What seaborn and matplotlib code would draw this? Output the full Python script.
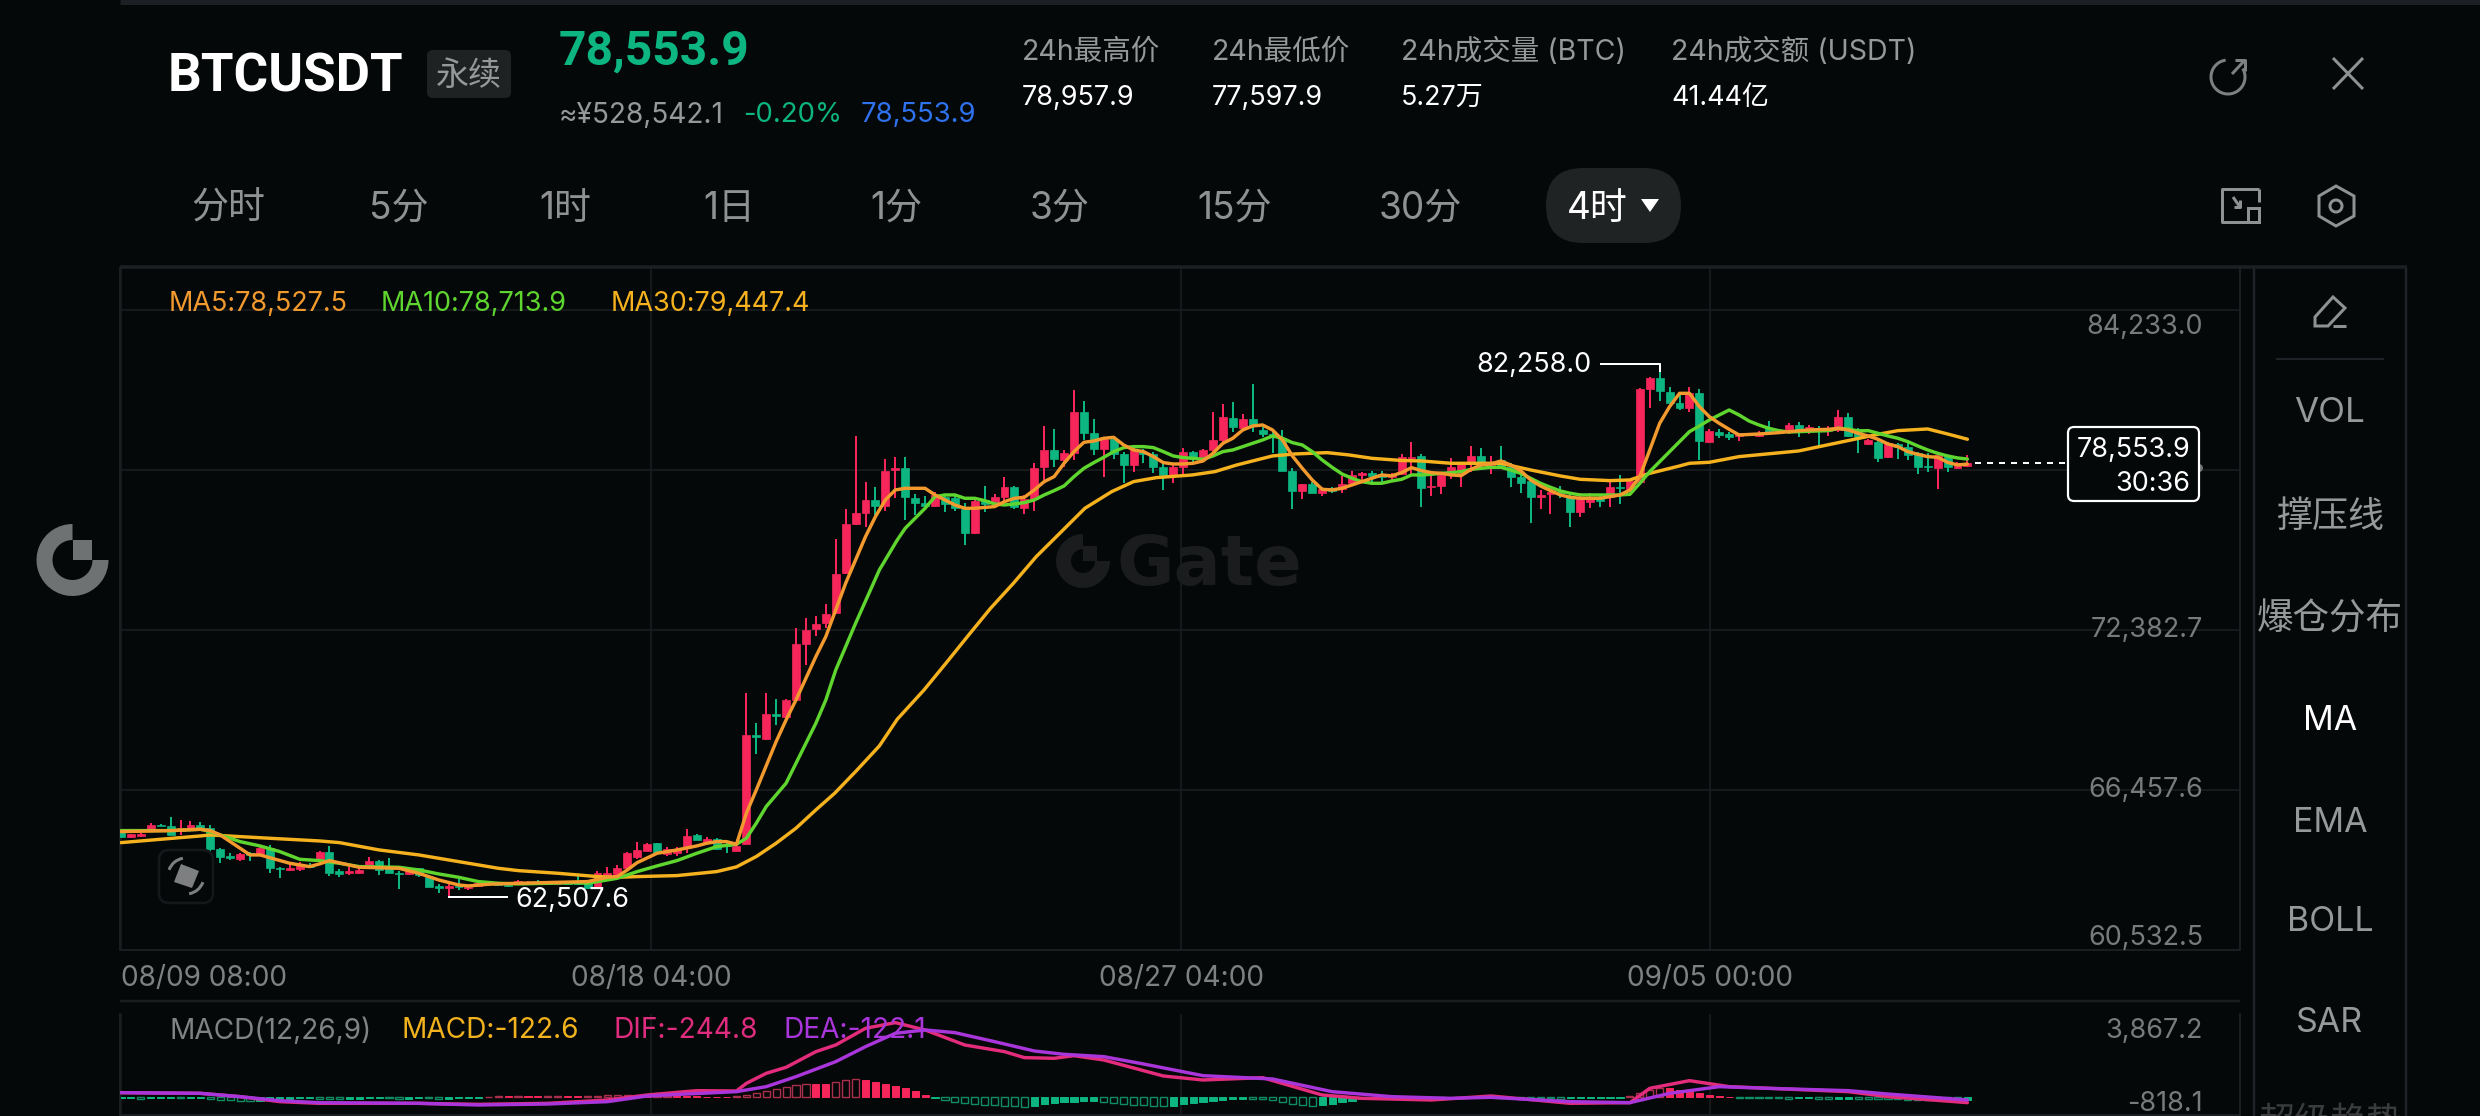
import matplotlib
matplotlib.use("Agg")
import matplotlib.pyplot as plt
from matplotlib.patches import FancyBboxPatch, Wedge, Rectangle, Polygon, Arc, Circle
import numpy as np
import seaborn as sns

# Candles, one per 4h
opens = [
    64920,64710,64760,64980,65160,65130,64950,65000,65160,65040,
    64260,64020,63910,64110,64090,64300,63560,63500,63520,63680,
    63870,64180,63470,63400,63400,63650,63810,63620,63400,63350,
    63560,63250,62900,62840,62920,62820,62920,62960,63000,62940,
    62980,63000,63050,63000,62980,63020,63000,63070,62820,63280,
    63350,63560,63970,64210,64490,64090,64140,64300,64790,64550,
    64660,64420,64210,64460,68490,68340,69280,69150,69800,71870,
    72410,72630,73000,74480,76300,76730,77200,76980,78310,78370,
    77260,77100,76980,77320,77260,76850,75990,77200,77100,77300,
    77690,76890,77220,78410,79050,78680,78950,80440,79670,79100,
    79440,78900,78490,78990,78900,78430,78120,78430,78990,78780,
    79030,79420,80250,79850,80200,79790,79640,79480,78280,77540,
    77790,77470,77630,77590,77820,78120,78210,78160,78060,78160,
    78740,78830,77670,77720,78120,78160,78530,78830,78430,78680,
    78430,78060,77910,77320,77420,77510,77350,76770,77140,77320,
    77300,77670,77570,77880,81300,81700,81210,80780,80590,81170,
    79360,79730,79640,79570,79640,79570,79850,79770,79810,79980,
    79770,79790,79770,79790,80280,79810,79270,79360,78780,79270,
    79170,78930,78460,78370,78830,78370,78460,
]
closes = [
    64730,64820,64830,65160,65130,64790,65040,65160,65040,64260,
    63970,63940,64090,64050,64320,63560,63520,63560,63720,63620,
    64180,63400,63330,63470,63500,63830,63500,63400,63350,63440,
    63310,62880,62840,62920,62860,62880,63000,63000,62940,62920,
    63090,63060,63000,62980,63020,62990,62970,62820,63370,63400,
    63560,64140,64240,64460,64140,64260,64260,64770,64610,64630,
    64260,64390,64390,68490,68410,69280,69180,69800,71870,72390,
    72610,72970,74460,76300,76730,77200,76980,78280,78370,77290,
    77100,76980,77380,77050,76890,75990,77170,77050,77300,77690,
    76950,77220,78380,79050,78700,78950,80440,79670,79070,79440,
    78900,78490,79030,78900,78410,78120,78430,78990,78700,79050,
    79420,80260,79890,80200,79980,79640,79610,78280,77540,77790,
    77470,77590,77540,77790,78120,78210,78090,78060,78120,78780,
    78800,77630,77720,78120,78430,78560,78830,78530,78560,78430,
    78060,77840,77300,77380,77510,77450,76770,77260,77260,77170,
    77670,77630,77910,81300,81700,81250,80800,80590,81150,79390,
    79770,79610,79540,79670,79590,79690,79730,79690,79980,79790,
    79910,79740,79850,80280,79570,79540,79420,78740,79300,79150,
    78870,78430,78410,78870,78430,78580,78553.9,
]
highs = [
    64980,64840,64850,65230,65180,65450,65350,65310,65260,65160,
    64300,64140,64140,64180,64360,64420,63620,63740,63800,63740,
    64190,64390,63520,63620,63650,63970,63870,63930,63440,63470,
    63580,63310,62980,63000,63150,62940,63030,63030,63050,62990,
    63120,63100,63120,63040,63060,63060,63280,63100,63440,63620,
    63680,64160,64550,64490,64510,64360,64360,65000,64830,64730,
    64680,64510,64420,70040,68930,70040,69840,69840,72450,72810,
    72900,73350,75740,76870,79570,77850,77670,78730,78800,78780,
    77410,77360,77510,77380,77350,77080,77200,77730,77420,78040,
    77700,77380,78560,79950,79820,79050,81270,80880,80200,79540,
    79540,78990,79110,79090,78990,78560,78560,79110,79000,79100,
    80470,80750,80810,80380,81490,79910,79730,79790,78370,77800,
    77880,77690,77690,78090,78280,78250,78280,78280,78190,78900,
    79360,78900,78120,78250,78770,78570,79200,79110,78830,79200,
    78560,78250,77960,77570,77720,77720,77450,77450,77450,77380,
    77880,78120,77960,81330,81760,82258,81370,81210,81370,81300,
    79810,79810,79730,79690,79680,79770,80140,79810,80060,80070,
    79980,79940,79940,80530,80410,79850,79450,79420,79360,79320,
    79360,78990,78930,78880,78870,78600,78870,
]
lows = [
    64670,64680,64720,64950,65110,64790,64790,64980,64950,64140,
    63770,63870,63840,63810,64060,63400,63190,63470,63470,63560,
    63840,63280,63250,63310,63340,63560,63310,63370,62780,63320,
    63250,62850,62660,62507.6,62760,62760,62890,62930,62900,62880,
    62950,62960,62960,62940,62950,62960,62950,62800,62790,63260,
    63320,63540,63890,64190,64120,64020,64030,64110,64590,64460,
    64240,64110,64190,64440,67800,68320,68860,69130,69780,71090,
    72160,72450,72980,74460,76260,76210,76610,76800,77260,76460,
    76640,76830,76950,76740,76800,75530,75940,76750,76980,77140,
    76850,76660,76800,77940,78410,78430,78680,79420,78870,78060,
    78700,77840,78250,78580,78190,77570,77840,78120,78560,78750,
    78900,79240,79730,79790,79730,79540,78950,78280,76850,77220,
    77440,77350,77450,77470,77790,77840,77750,77880,77940,78140,
    78120,76950,77350,77420,77960,77670,78250,78370,78160,78430,
    77690,77470,76360,76850,76680,77260,76210,76560,76890,76950,
    76930,77050,77540,77850,80590,80880,80780,80530,80470,78660,
    79320,79480,79420,79400,79550,79520,79640,79650,79640,79540,
    79640,79200,79570,79730,79520,78950,79240,78620,78760,78700,
    78680,78150,78250,77590,78250,78350,78430,
]

# Moving averages, read at these candle numbers
ma5_x = [0,5,8,9,10,12,13,14,17,19,20,21,24,28,30,32,34,35,37,40,47,49,50,51,52,54,56,58,59,60,61,62,
         63,64,66,67,68,70,71,72,73,74,75,76,77,78,79,81,82,83,84,85,86,88,89,90,91,92,93,94,95,96,97,98,99,100,
         101,102,103,104,105,106,107,108,109,110,111,112,113,114,115,116,117,118,119,120,121,122,123,124,125,126,127,128,
         129,130,131,132,133,134,135,136,137,138,139,140,141,142,143,144,145,146,147,149,150,151,152,153,154,155,156,157,158,159,
         160,161,162,163,165,167,168,170,172,173,174,175,176,177,178,179,180,181,182,183,184,185,186]
ma5 = [64917,64954,65003,64954,64793,64300,64053,64053,63744,63621,63720,63843,63596,63559,63374,63127,62942,62905,62967,63004,63066,63226,63251,63497,63769,64114,64238,64386,64485,64546,64546,64448,
       65599,66463,68252,69054,69795,71399,72139,73126,74114,74977,75841,76582,77199,77569,77630,77630,77384,77199,77013,76890,76890,76952,77137,77260,77297,77569,77877,78062,78556,78988,79333,79383,79482,79518,
       79235,79050,78988,78803,78581,78531,78531,78556,78642,78926,79296,79482,79790,79938,79975,79790,79420,78828,78371,77939,77593,77569,77630,77754,77877,78001,78124,78090,
       78210,78395,78284,78210,78185,78124,78099,78333,78494,78531,78642,78494,78284,77939,77716,77544,77383,77297,77260,77260,77322,77383,77568,78062,79049,80036,80653,81147,81147,80653,
       80283,80036,79814,79605,79642,79691,79728,79790,79814,79851,79790,79667,79568,79445,79272,79173,78988,78889,78803,78778,78593,78495,78527.5]

ma10_x = [0,5,8,9,10,12,14,16,18,20,22,24,28,30,32,34,36,38,40,46,47,49,50,52,54,56,58,60,62,
          63,64,65,66,67,68,70,71,72,74,76.4,78.2,79,81,82,83,84,85,86,87,88,89,90,91,92,93,94,95,96,97,98,99,100,
          101,102,103,104,105,106,107,108,109,110,111,112,113,114,115,116,117,118,119,120,121,122,123,124,125,126,127,128,
          129,130,131,132,133,134,135,136,137,138,139,140,141,142,143,144,145,146,147,151,152,153,154,155,156,157,158,159,
          160,161,162,163,164,165,166,167,168,170,172,173,174,175,176,177,178,179,180,181,182,183,184,185,186]
ma10 = [64954,64954,65003,64917,64793,64546,64386,64176,63892,63843,63744,63621,63596,63497,63349,63226,63066,63004,62979,63028,63004,63127,63189,63436,63646,63843,64114,64361,64448,
        64673,65229,65846,66278,66710,67450,68930,69790,70900,72630,74610,75718,76150,76890,77322,77384,77384,77260,77260,77174,77050,77013,77050,77100,77199,77384,77544,77717,78062,78371,78581,78778,78988,
        79136,79173,79173,79136,78988,78828,78766,78741,78704,78828,78988,79050,79173,79296,79420,79568,79482,79321,79235,78988,78679,78408,78161,78001,77877,77816,77816,77900,
        77963,78124,78124,78148,78185,78210,78247,78333,78370,78407,78407,78309,78185,78000,77815,77667,77531,77445,77383,77383,77408,77815,78247,78617,78987,79358,79728,79938,
        80160,80345,80530,80345,80123,79975,79851,79765,79716,79740,79765,79851,79827,79753,79766,79667,79568,79482,79358,79198,79050,78926,78828,78754,78713.9]

ma30_x = [0,4,8,9,12,15,20,22,26,30,34,38,40,44,48,50,52,56,60,62,64,66,68,70,
          71.9,74.1,76.4,78.2,80.9,83.1,85.4,87.6,89.9,92.2,94.4,97.1,99.8,102,104.3,107.9,110.2,112.4,116,118.3,121.5,123.7,126,
          129,131,134,137,139,142,145,147,150,152,154,157,158,160,163,169,173,177,179,182,184,186]
ma30 = [64509,64633,64756,64793,64731,64670,64571,64509,64238,64053,63806,63559,63473,63374,63251,63226,63251,63288,63436,63610,63995,64488,65044,65722,
        66340,67179,68092,69079,70165,71152,72201,73188,74114,75101,75903,76890,77507,77877,78025,78124,78248,78494,78828,78902,78951,78865,78741,
        78660,78642,78556,78556,78556,78309,78087,77963,77914,77939,78185,78457,78556,78593,78803,79013,79321,79630,79766,79827,79642,79447.4]

# MACD panel
dif_x = [0,8,12,16,20,30,36,43,49,53,58,62,63,65,67,70,72,75,78,81,85,89,91,94,96,99,105,109,115,121,125,132,138,146,152,154,158,162,174,178,186]
dif = [218,187,33,-199,-277,-277,-323,-277,-122,110,311,296,651,1116,1394,2121,2430,3204,3467,3127,2430,2121,1843,1812,1935,1734,992,806,914,110,-45,-122,64,-277,-246,419,775,497,265,33,-244.8]
dea_x = [0,8,12,16,20,30,36,43,49,53,57,62,65,68,72,75,78,81,84,88,92,95,99,103,109,116,122,128,134,138,146,152,156,161,166,174,178,186]
dea = [218,187,33,-153,-246,-277,-354,-308,-199,64,156,265,497,961,1657,2353,2972,3127,3003,2585,2152,1997,1889,1549,1007,853,265,33,-45,2,-199,-246,187,497,419,311,156,-122.1]
macd_hist = [
    -50,-50,-55,-50,-45,-45,-50,-50,-40,-70,
    -100,-130,-150,-160,-150,-120,-90,-70,-50,-45,
    -60,-70,-75,-70,-60,-50,-40,-50,-60,-55,
    -40,-50,-60,-55,-45,-30,-20,40,45,45,
    50,45,45,50,55,50,45,50,70,90,
    100,110,80,50,60,70,60,50,45,40,
    35,30,50,120,200,300,400,480,560,640,
    630,620,700,800,850,800,720,620,540,430,
    280,90,-10,-120,-220,-280,-320,-350,-370,-390,
    -410,-430,-380,-320,-280,-220,-200,-180,-150,-200,
    -250,-300,-340,-370,-400,-420,-380,-320,-270,-220,
    -180,-120,-80,-70,-75,-90,-120,-200,-290,-360,
    -420,-360,-300,-220,-150,-90,-50,-30,-20,-15,
    -10,-10,-15,-20,-10,-10,-5,-5,-5,-10,
    -10,-20,-30,-40,-50,-60,-50,-45,-40,-35,
    -30,-20,60,180,320,440,420,360,280,200,
    120,60,15,-20,-30,-40,-45,-50,-55,-50,
    -50,-60,-65,-60,-55,-60,-70,-75,-85,-95,
    -100,-105,-110,-115,-120,-125,-122.6,
]

date_pos = [0, 53.4, 106.8, 160.1]
date_labels = ["08/09 08:00", "08/18 04:00", "08/27 04:00", "09/05 00:00"]
price_grid = [84233.0, 78307.9, 72382.7, 66457.6, 60532.5]
price_labels = ["84,233.0", "72,382.7", "66,457.6", "60,532.5"]
tabs = ["分时", "5分", "1时", "1日", "1分", "3分", "15分", "30分"]
side_items = ["VOL", "撑压线", "爆仓分布", "MA", "EMA", "BOLL", "SAR", "超级趋势"]
stat_names = ["24h最高价", "24h最低价", "24h成交量 (BTC)", "24h成交额 (USDT)"]
stat_values = ["78,957.9", "77,597.9", "5.27万", "41.44亿"]

W, H = 2480, 1116
BG = "#050808"
GRID = "#1b1e20"
UP = "#F6265B"
DOWN = "#0DB680"
C_MA5, C_MA10, C_MA30 = "#F39A2E", "#5FD62F", "#F5B21E"
C_DIF, C_DEA = "#E42C7C", "#A936DA"
GREY = "#96989A"
PX = 0.72  # points per pixel at dpi 100

sns.set_theme(style="dark", rc={"axes.facecolor": "none", "figure.facecolor": BG})
plt.rcParams["font.family"] = ["Inter", "Noto Sans CJK SC", "DejaVu Sans"]


def box(l, t, r, b):
    return [l / W, 1 - b / H, (r - l) / W, (b - t) / H]


fig = plt.figure(figsize=(W / 100, H / 100), dpi=100, facecolor=BG)

# watermark layer sits under the chart
bg = fig.add_axes([0, 0, 1, 1], zorder=0)
bg.set_xlim(0, W)
bg.set_ylim(H, 0)
bg.axis("off")
WM = "#1a1c1e"
bg.add_patch(Wedge((1083, 561), 27, 0, 270, width=15, color=WM, lw=0))
bg.add_patch(Rectangle((1083, 546), 14, 15, color=WM, lw=0))
bg.text(1116, 566, "Gate", fontsize=70 * PX, color=WM, fontweight="bold", va="center", ha="left", family="DejaVu Sans")

# price panel
ax = fig.add_axes(box(120, 268, 2240, 950), zorder=1)
xs = np.arange(len(opens))
opens_a, closes_a = np.array(opens), np.array(closes)
colors = [UP if c >= o else DOWN for o, c in zip(opens, closes)]
ax.vlines(xs, lows, highs, colors=colors, lw=2 * PX, zorder=2)
ax.bar(xs, np.abs(closes_a - opens_a), bottom=np.minimum(opens_a, closes_a), width=0.8, color=colors,
       edgecolor=colors, linewidth=0.5, zorder=3)
sns.lineplot(x=ma30_x, y=ma30, ax=ax, color=C_MA30, lw=3.4 * PX, zorder=4, errorbar=None)
sns.lineplot(x=ma10_x, y=ma10, ax=ax, color=C_MA10, lw=3.4 * PX, zorder=5, errorbar=None)
sns.lineplot(x=ma5_x, y=ma5, ax=ax, color=C_MA5, lw=3.4 * PX, zorder=6, errorbar=None)
ax.set_xlim(-0.1, 213.46)
ax.set_ylim(60532.5, 85788)
ax.set_yticks(price_grid)
ax.set_xticks(date_pos)
ax.set_xticklabels(date_labels, fontsize=28 * PX, color="#7E8082")
ax.get_xticklabels()[0].set_ha("left")
ax.tick_params(axis="x", length=0, pad=11)
ax.tick_params(axis="y", length=0, labelleft=False)
ax.grid(True, color=GRID, lw=1.6 * PX, zorder=0)
ax.set_xlabel("")
ax.set_ylabel("")
for name, sp in ax.spines.items():
    sp.set_visible(name in ("left", "bottom", "right"))
    sp.set_color(GRID)
    sp.set_linewidth(2 * PX)

# MACD panel
ax2 = fig.add_axes(box(120, 1014, 2240, 1115), zorder=1)
for i, h in enumerate(macd_hist):
    col = UP if h >= 0 else DOWN
    dim = "#A8304C" if h >= 0 else "#0E8C63"
    growing = i > 0 and abs(h) > abs(macd_hist[i - 1])
    if growing:
        ax2.bar(i, h, width=0.72, facecolor=BG, edgecolor=dim, linewidth=1.4 * PX, zorder=2)
    else:
        ax2.bar(i, h, width=0.72, color=col, edgecolor=col, linewidth=0.7, zorder=2)
sns.lineplot(x=dif_x, y=dif, ax=ax2, color=C_DIF, lw=3.4 * PX, zorder=3, errorbar=None)
sns.lineplot(x=dea_x, y=dea, ax=ax2, color=C_DEA, lw=3.4 * PX, zorder=4, errorbar=None)
ax2.set_xlim(-0.1, 213.46)
ax2.set_ylim(-818.1, 3867.2)
ax2.set_xticks(date_pos)
ax2.set_yticks([])
ax2.tick_params(axis="x", length=0, labelbottom=False)
ax2.grid(True, axis="x", color=GRID, lw=1.6 * PX, zorder=0)
ax2.set_xlabel("")
ax2.set_ylabel("")
for name, sp in ax2.spines.items():
    sp.set_visible(name in ("left", "bottom", "right"))
    sp.set_color(GRID)
    sp.set_linewidth(2 * PX)

# everything around the charts, in picture pixels
ui = fig.add_axes([0, 0, 1, 1], zorder=2, facecolor="none")
ui.set_xlim(0, W)
ui.set_ylim(H, 0)
ui.axis("off")


def label(x, y, s, px, color=GREY, ha="left", weight="normal", **kw):
    ui.text(x, y + 5, s, fontsize=px * PX, color=color, ha=ha, va="center", fontweight=weight, clip_on=False, **kw)


def stroke(xs_, ys_, color=GREY, lw=3, **kw):
    ui.plot(xs_, ys_, color=color, lw=lw * PX, solid_capstyle="butt", **kw)


# frame lines
stroke([120, W], [2, 2], color="#1c1f23", lw=5)
stroke([120, 2407], [267, 267], color="#1c1f23", lw=3.5)
stroke([120, 2240], [1001, 1001], color=GRID, lw=2.5)
stroke([2254, 2254], [268, H], color="#1f2226", lw=2.5)
stroke([2406, 2406], [268, H], color="#1f2226", lw=2.5)
stroke([2276, 2384], [359, 359], color="#1f2226", lw=2)

# header
label(168, 72, "BTCUSDT", 53, color="white", weight="bold", family="Roboto")
ui.add_patch(FancyBboxPatch((427, 50), 84, 48, boxstyle="round,pad=0,rounding_size=6", fc="#1f2223", ec="none", lw=0))
label(469, 72, "永续", 33, ha="center")
label(559, 47, "78,553.9", 48, color=DOWN, weight="bold", family="Roboto")
label(559, 110, "≈¥528,542.1", 28)
label(743, 110, "-0.20%", 27.5, color=DOWN)
label(861, 110, "78,553.9", 27.5, color="#2F72EE")
for x, name, val in zip([1022, 1212, 1401, 1671], stat_names, stat_values):
    label(x, 47, name, 28.5)
    label(x, 93, val, 27, color="white")

# interval tabs
for x, t in zip([228, 399, 565, 729, 896, 1060, 1235, 1420], tabs):
    label(x, 204, t, 37, color="#8F9193", ha="center")
ui.add_patch(FancyBboxPatch((1546, 168), 135, 75, boxstyle="round,pad=0,rounding_size=37", fc="#202324", ec="none", lw=0))
label(1597, 204, "4时", 37, color="white", ha="center")
ui.add_patch(Polygon([(1641, 199), (1659, 199), (1650, 212)], color="white", lw=0))

# header icons
ui.add_patch(Arc((2228, 77), 34, 34, theta1=-30, theta2=262, color="#7E8082", lw=3 * PX))
stroke([2235, 2245, 2245], [60, 60, 71], color="#7E8082")
stroke([2245, 2232], [60, 74], color="#7E8082")
stroke([2333, 2363], [58, 89], color="#8F9193")
stroke([2363, 2333], [58, 89], color="#8F9193")
stroke([2259, 2222, 2222, 2259], [189, 189, 222, 222], color="#8F9193")
stroke([2259, 2259], [189, 202], color="#8F9193")
ui.add_patch(Rectangle((2248, 208), 11, 14, fc="none", ec="#8F9193", lw=3 * PX))
stroke([2233, 2240], [197, 207], color="#8F9193")
stroke([2234, 2240, 2240], [207, 207, 200], color="#8F9193")
ui.add_patch(Polygon([(2336, 186), (2354, 196), (2354, 216), (2336, 226), (2319, 216), (2319, 196)], fc="none", ec="#8F9193", lw=3 * PX))
ui.add_patch(Circle((2336, 206), 6, fc="none", ec="#8F9193", lw=3 * PX))

# side panel
ui.add_patch(Polygon([(2315, 317), (2333, 297), (2345, 308), (2328, 326), (2315, 326)], fc="none", ec="#8F9193", lw=3 * PX))
stroke([2333, 2346], [326, 326], color="#8F9193")
for y, t, px in zip([408, 512, 614, 716, 818, 917, 1018], side_items[:7], [35, 36, 36.5, 34, 34, 34, 34]):
    label(2330, y, t, px, color="white" if t == "MA" else "#96989A", ha="center")
label(2330, 1118, side_items[7], 36, color="#3A3C3E", ha="center")

# legends
label(169, 299, "MA5:78,527.5", 27, color=C_MA5)
label(381, 299, "MA10:78,713.9", 27, color=C_MA10)
label(611, 299, "MA30:79,447.4", 27, color=C_MA30)
label(169, 1026, "MACD(12,26,9)", 28, color="#808284")
label(401, 1026, "MACD:-122.6", 28, color="#F2B21E")
label(613, 1026, "DIF:-244.8", 28, color="#DF2C7E")
label(784, 1026, "DEA:-122.1", 28, color=C_DEA)

# axis values
for y, t in zip([322, 625, 785, 933], price_labels):
    label(2203, y, t, 27, color="#787A7C", ha="right")
label(2203, 1026, "3,867.2", 27, color="#787A7C", ha="right")
label(2203, 1099, "-818.1", 27, color="#787A7C", ha="right")

# high and low marks
stroke([1600, 1660, 1660], [364, 364, 372], color="white", lw=2)
label(1591, 360, "82,258.0", 27, color="white", ha="right")
stroke([448, 508], [897, 897], color="white", lw=2)
label(515, 895, "62,507.6", 27, color="white")

# last price tag
stroke([1975, 2067], [463, 463], color="white", lw=2, linestyle=(0, (3, 3)))
ui.add_patch(Circle((2199, 468), 4, color="#6f7272", lw=0))
ui.add_patch(FancyBboxPatch((2068, 427), 131, 74, boxstyle="round,pad=0,rounding_size=6", fc=BG, ec="white", lw=2.2 * PX))
label(2190, 445, "78,553.9", 27, color="white", ha="right")
label(2190, 479, "30:36", 27, color="white", ha="right")

# logos
ui.add_patch(Wedge((72.5, 560), 36, 0, 270, width=16, color="#6F7272", lw=0))
ui.add_patch(Rectangle((72.5, 540), 19.5, 20, color="#6F7272", lw=0))
ui.add_patch(FancyBboxPatch((159, 850), 54, 53, boxstyle="round,pad=0,rounding_size=10", fc="none", ec="#15181A", lw=2.5 * PX))
ui.add_patch(Polygon([(181, 864), (199, 871), (192, 888), (174, 882)], color="#7D7F80", lw=0))
ui.add_patch(Arc((186, 876), 36, 36, theta1=200, theta2=260, color="#7D7F80", lw=3 * PX))
ui.add_patch(Arc((186, 876), 36, 36, theta1=20, theta2=80, color="#7D7F80", lw=3 * PX))

fig.savefig("out.png", dpi=100, facecolor=BG)
plt.close(fig)
